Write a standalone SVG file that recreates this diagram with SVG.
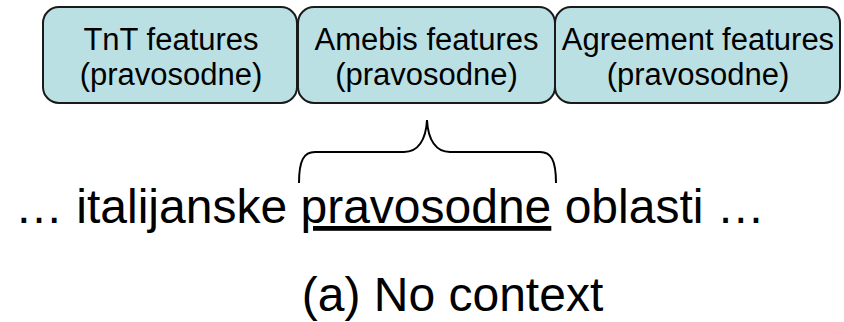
<svg xmlns="http://www.w3.org/2000/svg" width="844" height="322" viewBox="0 0 844 322">
<style>
.box{fill:#BBE0E3;stroke:#1a1a1a;stroke-width:2}
.bt{font-family:"Liberation Sans",Arial,sans-serif;font-size:31px;fill:#000;text-anchor:middle}
.big{font-family:"Liberation Sans",Arial,sans-serif;font-size:48px;fill:#000}
.brace{fill:none;stroke:#000;stroke-width:2}
</style>
<rect width="844" height="322" fill="#fff"/>
<g id="tnt">
<rect class="box" x="43" y="7" width="254" height="96" rx="16"/>
<text class="bt" x="171" y="50">TnT features</text>
<text class="bt" x="171" y="85">(pravosodne)</text>
</g>
<g id="amebis">
<rect class="box" x="298" y="7" width="257" height="96" rx="16"/>
<text class="bt" x="426.5" y="50">Amebis features</text>
<text class="bt" x="426.5" y="85">(pravosodne)</text>
</g>
<g id="agreement">
<rect class="box" x="555" y="7" width="285" height="96" rx="16"/>
<text class="bt" x="698" y="50">Agreement features</text>
<text class="bt" x="698" y="85">(pravosodne)</text>
</g>
<g id="connectors">
<path class="brace" d="M299,183 C299,160 304,152 315,152 L404,152 C418,152 426,140 427,120 C428,140 436,152 450,152 L540,152 C551,152 556,160 556,183"/>
</g>
<g id="sentence">
<text class="big" x="15" y="223">… italijanske <tspan text-decoration="underline">pravosodne</tspan> oblasti …</text>
<text class="big" x="452.5" y="311" text-anchor="middle" font-size="52">(a) No context</text>
</g>
</svg>
